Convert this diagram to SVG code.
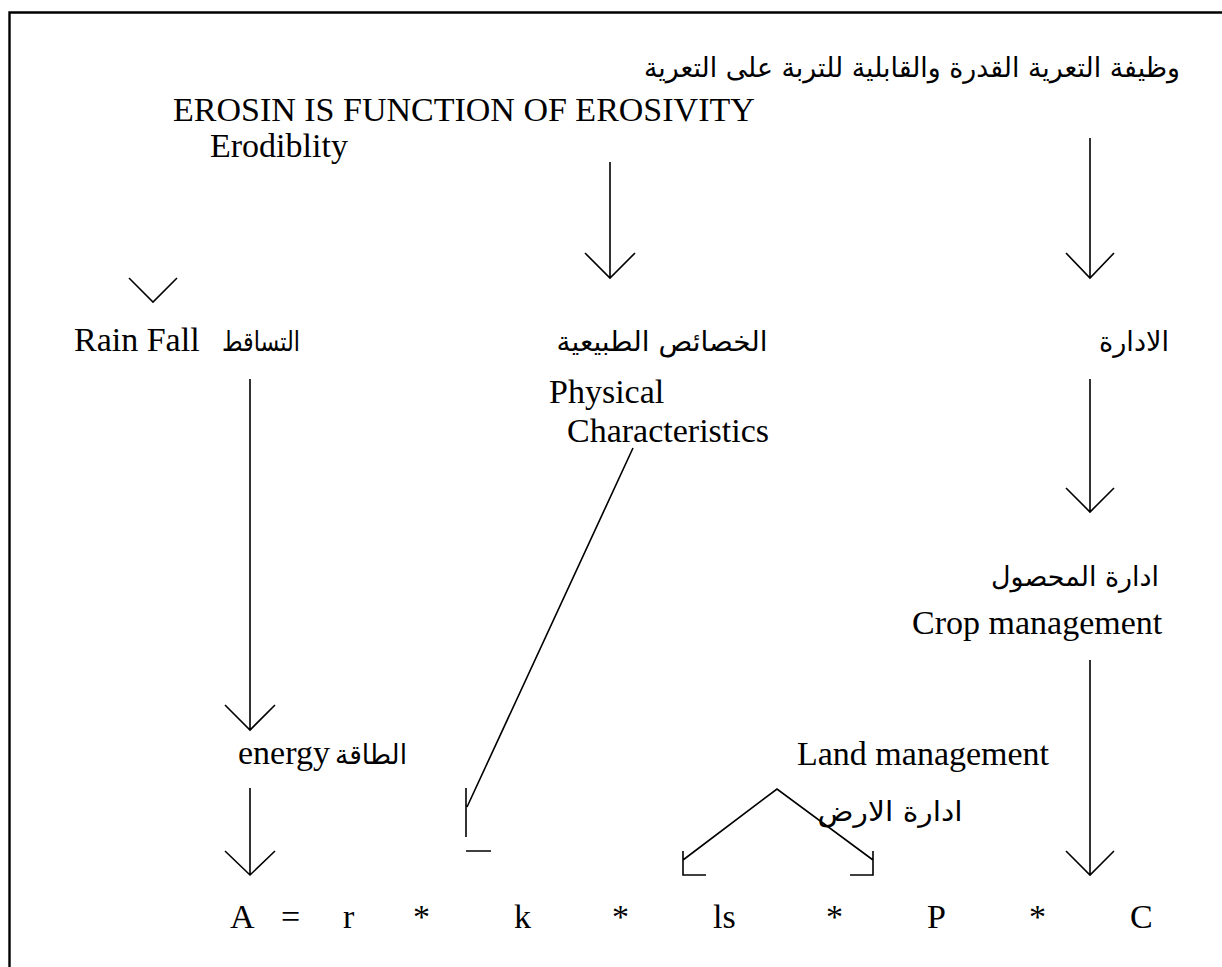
<svg xmlns="http://www.w3.org/2000/svg" width="1222" height="967" viewBox="0 0 1222 967">
<style>
.ln{stroke:#000;stroke-width:1.6;fill:none;stroke-linecap:butt;stroke-linejoin:miter}
.en{font-family:"Liberation Serif","Times New Roman",serif;font-size:34px;fill:#000}
.ar{font-family:"DejaVu Sans","Liberation Sans",sans-serif;font-size:27px;fill:#000;text-anchor:middle}
.eq{font-family:"Liberation Serif","Times New Roman",serif;font-size:34px;fill:#000}
</style>
<rect width="1222" height="967" fill="#fff"/>
<g id="frame"><path class="ln" style="stroke-width:2.4" d="M9.5,967 V12.5 H1222"/></g>
<g id="title"><text class="ar" x="912" y="77" textLength="536" lengthAdjust="spacingAndGlyphs">وظيفة التعرية القدرة والقابلية للتربة على التعرية</text></g>
<g id="erosion"><text class="en" x="173" y="121">EROSIN IS FUNCTION OF EROSIVITY</text></g>
<g id="erodiblity"><text class="en" x="210" y="157">Erodiblity</text></g>
<g id="rainfall"><text class="en" x="74" y="351">Rain Fall</text><text class="ar" x="261" y="351" textLength="78" lengthAdjust="spacingAndGlyphs">التساقط</text></g>
<g id="physical-ar"><text class="ar" x="662" y="351" textLength="211" lengthAdjust="spacingAndGlyphs">الخصائص الطبيعية</text></g>
<g id="management"><text class="ar" x="1134" y="351" textLength="70" lengthAdjust="spacingAndGlyphs">الادارة</text></g>
<g id="physical"><text class="en" x="549" y="403">Physical</text><text class="en" x="567" y="442">Characteristics</text></g>
<g id="crop"><text class="ar" x="1075" y="586" textLength="168" lengthAdjust="spacingAndGlyphs">ادارة المحصول</text><text class="en" x="912" y="634">Crop management</text></g>
<g id="energy"><text class="en" x="238" y="764">energy</text><text class="ar" x="371" y="764" textLength="72" lengthAdjust="spacingAndGlyphs">الطاقة</text></g>
<g id="land"><text class="en" x="797" y="765">Land management</text><text class="ar" x="890" y="821" textLength="145" lengthAdjust="spacingAndGlyphs">ادارة الارض</text></g>
<g id="equation" class="eq">
<text x="230" y="928">A</text><text x="281" y="928">=</text><text x="343" y="928">r</text><text x="413" y="928">*</text><text x="514" y="928">k</text><text x="612" y="928">*</text><text x="713" y="928">ls</text><text x="826" y="928">*</text><text x="927" y="928">P</text><text x="1029" y="928">*</text><text x="1130" y="928">C</text>
</g>
<g id="connectors">
<path class="ln" d="M129,278 L153,302 L177,278"/>
<path class="ln" d="M610,162 V278 M585,253 L610,278 L635,253"/>
<path class="ln" d="M1090,138 V278 M1066,253 L1090,278 L1114,253"/>
<path class="ln" d="M250,379 V730 M225,705 L250,730 L275,705"/>
<path class="ln" d="M1090,379 V512 M1066,488 L1090,512 L1114,488"/>
<path class="ln" d="M250,788 V875 M225,851 L250,875 L275,851"/>
<path class="ln" d="M1090,660 V875 M1066,851 L1090,875 L1114,851"/>
<path class="ln" d="M633,448 L467,807 M466,788 V837 M466,851 H491"/>
<path class="ln" d="M683,860 L777,789 L873,860 M683,851 V875 H706 M873,851 V875 H850"/>
</g>
</svg>
